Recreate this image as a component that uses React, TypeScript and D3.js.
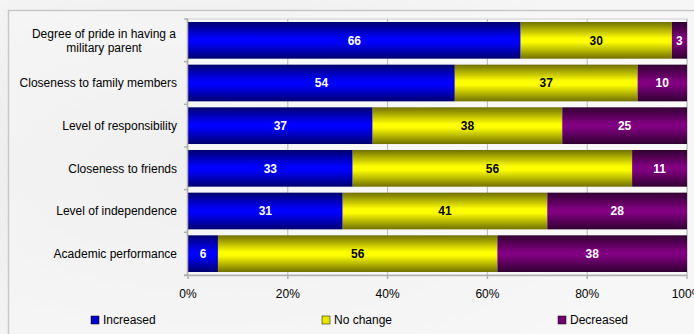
import React from "react";
import * as d3 from "d3";

const categories = [
  "Degree of pride in having a military parent",
  "Closeness to family members",
  "Level of responsibility",
  "Closeness to friends",
  "Level of independence",
  "Academic performance",
];
const increased = [66, 54, 37, 33, 31, 6];
const noChange = [30, 37, 38, 56, 41, 56];
const decreased = [3, 10, 25, 11, 28, 38];
const seriesNames = ["Increased", "No change", "Decreased"];
const tickValues = [0, 20, 40, 60, 80, 100];

const W = 694;
const H = 334;
const M = { left: 188, right: 7, top: 19, bottom: 59 };

const colors = [
  { dark: "#000070", light: "#0000ff", text: "#ffffff", legend: "#0000cc" },
  { dark: "#707000", light: "#ffff00", text: "#000000", legend: "#e6e600" },
  { dark: "#300030", light: "#800080", text: "#ffffff", legend: "#700070" },
];

export default function App() {
  const x = d3.scaleLinear().domain([0, 100]).range([M.left, W - M.right]);
  const y = d3
    .scaleBand()
    .domain(categories)
    .range([M.top, H - M.bottom])
    .paddingInner(0.14)
    .paddingOuter(0.07);
  const step = y.step();
  const series = [increased, noChange, decreased];
  const stacked = categories.map((c, i) => {
    const total = d3.sum(series, (s) => s[i]);
    let acc = 0;
    return series.map((s, k) => {
      const x0 = acc;
      acc += (s[i] / total) * 100;
      return { k, x0, x1: acc, v: s[i] };
    });
  });
  const axisY = H - M.bottom;
  const font = "Arial, 'Liberation Sans', sans-serif";
  const legendX = [91, 322, 558];

  return (
    <svg width={W} height={H} style={{ position: "absolute", left: 0, top: 0 }} fontFamily={font}>
      <defs>
        {colors.map((c, k) => (
          <linearGradient key={k} id={`g${k}`} x1="0" y1="0" x2="0" y2="1">
            <stop offset="0%" stopColor={c.dark} />
            <stop offset="45%" stopColor={c.light} />
            <stop offset="55%" stopColor={c.light} />
            <stop offset="100%" stopColor={c.dark} />
          </linearGradient>
        ))}
        <radialGradient id="bg" cx="0.3" cy="0.5" r="0.7">
          <stop offset="0%" stopColor="#e8e8e8" />
          <stop offset="100%" stopColor="#f6f6f6" />
        </radialGradient>
      </defs>
      <rect x={0} y={0} width={W} height={H} fill="url(#bg)" />
      <rect x={8.5} y={10.5} width={W} height={H} fill="#f7f7f7" fillOpacity={0.5} stroke="#c8c8c8" strokeWidth={1.5} />
      <rect x={M.left} y={M.top} width={W - M.right - M.left} height={axisY - M.top} fill="#fafafa" fillOpacity={0.6} stroke="#d0d0d0" />
      {tickValues.slice(1).map((t) => (
        <line key={t} x1={x(t)} x2={x(t)} y1={M.top} y2={axisY} stroke="#b8b8b8" />
      ))}
      {stacked.map((row, i) =>
        row.map((d) => (
          <rect
            key={`${i}-${d.k}`}
            x={x(d.x0)}
            width={x(d.x1) - x(d.x0)}
            y={y(categories[i])}
            height={y.bandwidth()}
            fill={`url(#g${d.k})`}
          />
        ))
      )}
      {stacked.map((row, i) =>
        row.map((d) => (
          <text
            key={`t${i}-${d.k}`}
            x={(x(d.x0) + x(d.x1)) / 2}
            y={(y(categories[i]) as number) + y.bandwidth() / 2}
            dy="0.35em"
            textAnchor="middle"
            fontSize={12}
            fontWeight="bold"
            fill={colors[d.k].text}
          >
            {d.v}
          </text>
        ))
      )}
      {/* y axis */}
      <line x1={M.left - 0.5} x2={M.left - 0.5} y1={M.top} y2={axisY} stroke="#b0b0b0" strokeWidth={1.5} />
      {d3.range(categories.length + 1).map((i) => (
        <line key={`yt${i}`} x1={M.left - 4} x2={M.left} y1={M.top + i * step} y2={M.top + i * step} stroke="#b0b0b0" strokeWidth={1.5} />
      ))}
      {/* x axis */}
      <line x1={M.left - 4} x2={W - M.right} y1={axisY + 0.5} y2={axisY + 0.5} stroke="#b0b0b0" strokeWidth={1.5} />
      {tickValues.map((t) => (
        <g key={`xt${t}`}>
          <line x1={x(t)} x2={x(t)} y1={axisY} y2={axisY + 4} stroke="#b0b0b0" strokeWidth={1.5} />
          <text x={x(t)} y={294} dy="0.35em" textAnchor="middle" fontSize={12} fill="#000">
            {t}%
          </text>
        </g>
      ))}
      {categories.map((c, i) => {
        const cy = (y(c) as number) + y.bandwidth() / 2;
        if (i === 0) {
          return (
            <text key={c} x={104} y={cy} textAnchor="middle" fontSize={12} fill="#000">
              <tspan x={104} y={cy - 7} dy="0.35em">Degree of pride in having a</tspan>
              <tspan x={104} y={cy + 7} dy="0.35em">military parent</tspan>
            </text>
          );
        }
        return (
          <text key={c} x={177} y={cy} dy="0.35em" textAnchor="end" fontSize={12} fill="#000">
            {c}
          </text>
        );
      })}
      {seriesNames.map((s, k) => (
        <g key={s}>
          <rect x={legendX[k]} y={316} width={8} height={8} fill={colors[k].legend} stroke="#000" strokeWidth={0.5} />
          <text x={legendX[k] + 12} y={320} dy="0.35em" fontSize={12} fill="#000">
            {s}
          </text>
        </g>
      ))}
    </svg>
  );
}
